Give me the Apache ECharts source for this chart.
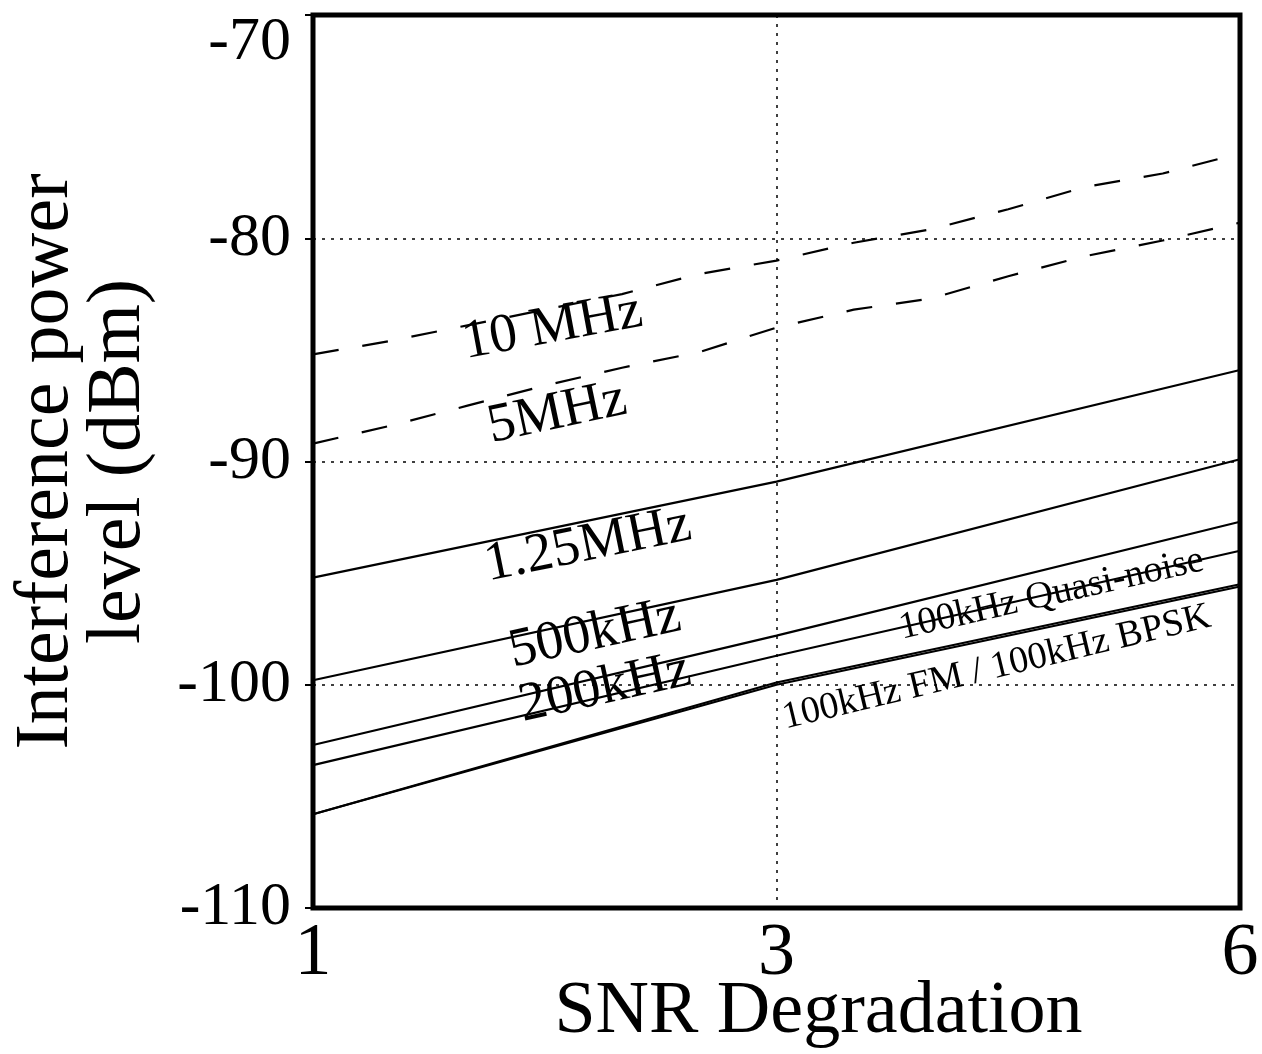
<!DOCTYPE html>
<html lang="en">
<head>
<meta charset="UTF-8">
<title>Interference power vs SNR degradation</title>
<script src="https://cdn.jsdelivr.net/npm/echarts@6/dist/echarts.min.js"></script>
<style>
  html, body { margin: 0; padding: 0; background: #fff; }
  #chart { width: 1262px; height: 1054px; }
</style>
</head>
<body>
<div id="chart"></div>
<script type="text/javascript">
    // SNR degradation steps (x axis); only 1, 3 and 6 are labelled
    var snrSteps = ['1', '1.33', '1.67', '2', '2.33', '2.67', '3', '3.5', '4', '4.5', '5', '5.5', '6'];
    var snrLabelled = ['1', '3', '6'];

    // dashed curves, read at every step
    var mhz10 = [-85.2, -84.6, -83.9, -83.2, -82.5, -81.6, -81.0, -80.2, -79.6, -78.7, -77.7, -77.1, -76.2];
    var mhz5 = [-89.2, -88.4, -87.5, -86.6, -85.8, -85.1, -84.0, -83.2, -82.7, -81.7, -80.8, -80.1, -79.3];

    // solid curves, read at 1, 3 and 6
    var mhz125 = [-95.2, -90.9, -85.9];
    var khz500 = [-99.8, -95.3, -89.9];
    var khz200 = [-102.7, -97.8, -92.7];
    var khz100Quasi = [-103.6, -98.7, -94.0];
    var khz100FM = [-105.8, -99.9, -95.5];
    var khz100BPSK = [-105.8, -100.0, -95.6];

    var yMin = -110, yMax = -70, yStep = 10;

    // curve labels: text, anchor (step index, dBm), angle (deg), font size
    var notes = [
        ['10 MHz', 3.1, -84.0, 10.5, 55],
        ['5MHz', 3.16, -87.85, 12, 55],
        ['1.25MHz', 3.56, -93.76, 11.5, 55],
        ['500kHz', 3.65, -97.73, 12.3, 55],
        ['200kHz', 3.78, -100.16, 12.4, 55],
        ['100kHz Quasi-noise', 9.56, -95.96, 12.8, 38],
        ['100kHz FM / 100kHz BPSK', 8.85, -99.23, 13.5, 38]
    ];

    var serif = 'Liberation Serif';
    var chart = echarts.init(document.getElementById('chart'));

    function atLabelled(vals) {
        return snrLabelled.map(function (c, i) { return [c, vals[i]]; });
    }

    function solid(name, vals) {
        return {
            name: name, type: 'line', symbol: 'none', silent: true,
            lineStyle: { color: '#000', width: 2.2 },
            data: atLabelled(vals)
        };
    }

    function dashed(name, vals) {
        return {
            name: name, type: 'line', symbol: 'none', silent: true,
            lineStyle: { color: '#000', width: 2.2, type: [26, 24] },
            data: vals
        };
    }

    var dotted = { color: '#000', width: 1.5, type: [3, 6] };

    var option = {
        backgroundColor: '#fff',
        animation: false,
        grid: {
            left: 313, right: 22, top: 15, bottom: 146,
            outerBoundsMode: 'none',
            containLabel: false,
            show: true, borderColor: '#000', borderWidth: 5
        },
        xAxis: {
            type: 'category',
            data: snrSteps,
            boundaryGap: false,
            axisLine: { show: false },
            axisTick: { show: false },
            axisLabel: {
                interval: function (i, v) { return snrLabelled.indexOf(v) >= 0; },
                color: '#000', fontFamily: serif, fontSize: 74, margin: 10
            },
            splitLine: {
                show: true,
                interval: function (i, v) { return v === '3'; },
                lineStyle: dotted
            },
            name: 'SNR Degradation',
            nameLocation: 'middle',
            nameGap: 68,
            nameMoveOverlap: false,
            nameTextStyle: { color: '#000', fontFamily: serif, fontSize: 74, padding: [0, 0, 0, 84] }
        },
        yAxis: {
            type: 'value',
            min: yMin, max: yMax, interval: yStep,
            axisLine: { show: false },
            axisTick: { show: true, length: 8, lineStyle: { color: '#000', width: 2 } },
            axisLabel: {
                color: '#000', fontFamily: serif, fontSize: 62, margin: 22,
                // the top label sits below its tick in the original
                formatter: function (v) { return v === yMax ? '{top|' + v + '}' : String(v); },
                rich: { top: { fontFamily: serif, fontSize: 62, color: '#000', padding: [56, 0, 0, 0] } }
            },
            splitLine: { show: true, lineStyle: dotted },
            name: 'Interference power\nlevel (dBm)',
            nameLocation: 'middle',
            nameRotate: 90,
            nameGap: 158,
            nameMoveOverlap: false,
            nameTextStyle: { color: '#000', fontFamily: serif, fontSize: 76, lineHeight: 72 }
        },
        series: [
            dashed('10 MHz', mhz10),
            dashed('5MHz', mhz5),
            solid('1.25MHz', mhz125),
            solid('500kHz', khz500),
            solid('200kHz', khz200),
            solid('100kHz Quasi-noise', khz100Quasi),
            solid('100kHz FM', khz100FM),
            solid('100kHz BPSK', khz100BPSK)
        ]
    };
    chart.setOption(option);

    // fractional step index -> pixel, through the chart's own axes
    function toPx(idx, val) {
        var i0 = Math.floor(idx);
        var i1 = Math.min(i0 + 1, snrSteps.length - 1);
        var p0 = chart.convertToPixel({ gridIndex: 0 }, [i0, val]);
        var p1 = chart.convertToPixel({ gridIndex: 0 }, [i1, val]);
        return [p0[0] + (p1[0] - p0[0]) * (idx - i0), p0[1]];
    }

    var texts = notes.map(function (n) {
        var p = toPx(n[1], n[2]);
        return {
            type: 'text', x: p[0], y: p[1],
            rotation: n[3] * Math.PI / 180,
            silent: true,
            style: {
                text: n[0], fill: '#000', fontFamily: serif, fontSize: n[4],
                align: 'center', verticalAlign: 'middle'
            }
        };
    });
    chart.setOption({ graphic: texts });
</script>
</body>
</html>
